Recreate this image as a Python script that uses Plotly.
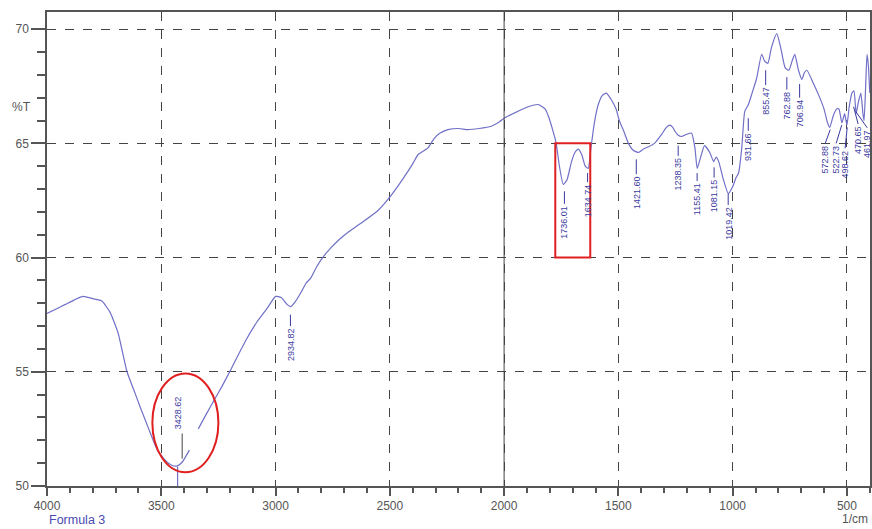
import plotly.graph_objects as go

# ---------------- data ----------------
wavenumber = [4000, 3960, 3920, 3880, 3842, 3800, 3760, 3724, 3689, 3650, 3620, 3592, 3555, 3518,
              3480, 3452, 3430, 3408, 3377, None, 3338, 3300, 3272, 3235, 3197, 3160, 3123, 3080,
              3035, 3000, 2975, 2950, 2934, 2915, 2890, 2865, 2846, 2820, 2794, 2760, 2720, 2684,
              2627, 2553, 2496, 2439, 2400, 2377, 2333, 2307, 2280, 2246, 2200, 2158, 2110, 2057,
              2020, 1991, 1940, 1895, 1851, 1820, 1803, 1785, 1772, 1758, 1741, 1725, 1705, 1690,
              1675, 1660, 1645, 1632, 1620, 1605, 1588, 1570, 1553, 1530, 1510, 1496, 1475, 1456,
              1435, 1412, 1390, 1368, 1342, 1310, 1290, 1276, 1262, 1254, 1238, 1224, 1200, 1180,
              1165, 1155, 1140, 1123, 1100, 1083, 1072, 1061, 1040, 1019, 1000, 985, 974, 960,
              947, 931, 915, 895, 873, 860, 846, 830, 807, 790, 770, 754, 740, 728, 712, 697, 686,
              675, 650, 623, 600, 585, 575, 560, 545, 535, 522, 510, 500, 490, 478, 469, 460, 450,
              439, 430, 425, 418, 412, 406, 400]
transmittance = [57.55, 57.75, 57.95, 58.15, 58.3, 58.2, 58.1, 57.6, 56.7, 55.0, 54.2, 53.45, 52.5, 51.6,
                 51.1, 50.9, 50.88, 51.05, 51.57, None, 52.5, 53.2, 53.7, 54.35, 55.07, 55.8, 56.5, 57.2,
                 57.8, 58.3, 58.25, 57.95, 57.85, 58.05, 58.45, 58.9, 59.1, 59.6, 60.0, 60.4, 60.8, 61.1,
                 61.5, 62.05, 62.7, 63.5, 64.1, 64.5, 64.8, 65.2, 65.45, 65.6, 65.65, 65.6, 65.65, 65.75,
                 65.95, 66.15, 66.4, 66.6, 66.7, 66.5, 66.1, 65.5, 65.0, 64.0, 63.2, 63.4, 64.2, 64.6,
                 64.75, 64.5, 64.0, 63.9, 64.8, 65.9, 66.7, 67.1, 67.2, 66.9, 66.5, 66.0, 65.5, 65.0,
                 64.7, 64.6, 64.75, 64.85, 65.0, 65.4, 65.7, 65.8, 65.7, 65.55, 65.35, 65.3, 65.4, 65.45,
                 64.8, 63.9, 64.4, 64.9, 64.6, 64.2, 64.4, 64.2, 63.4, 62.8, 63.1, 63.5, 63.7, 64.8,
                 66.4, 66.7, 67.2, 67.85, 68.9, 68.6, 68.5, 69.2, 69.8, 69.2, 68.3, 68.2, 68.6, 68.9, 68.2, 67.8, 68.1,
                 68.2, 67.7, 67.1, 66.5, 65.9, 65.7, 66.2, 66.5, 66.5, 65.9, 66.3, 65.8, 66.6, 67.2, 67.3, 66.3, 66.8,
                 67.2, 66.3, 66.0, 67.5, 68.9, 68.4, 67.2]

# peak labels: wavenumber, label text, label x position, leader start (near curve) / end (label top), %T
peak_wn = [3428.62, 2934.82, 1736.01, 1634.74, 1421.60, 1238.35, 1155.41, 1081.15, 1019.42,
           931.66, 855.47, 762.88, 706.94, 572.88, 522.73, 498.62, 470.65, 461.97]
peak_text = ["3428.62", "2934.82", "1736.01", "1634.74", "1421.60", "1238.35", "1155.41", "1081.15",
             "1019.42", "931.66", "855.47", "762.88", "706.94", "572.88", "522.73", "498.62",
             "470.65", "461.97"]
peak_label_x = [3428.62, 2934.82, 1736.01, 1634.74, 1421.60, 1238.35, 1155.41, 1081.15, 1019.42,
                931.66, 855.47, 762.88, 706.94, 595, 547, 508, 451, 411]
peak_line_top = [51.2, 57.5, 62.9, 63.7, 64.3, 64.9, 63.7, 63.95, 62.8, 66.1, 68.2, 67.9, 67.6,
                 65.6, 65.8, 65.7, 66.6, 66.4]
peak_line_bot = [52.3, 57.0, 62.35, 63.3, 63.65, 64.45, 63.35, 63.5, 62.3, 65.55, 67.55, 67.35, 67.0,
                 65.0, 65.0, 64.78, 65.85, 65.68]

x_ticks = [4000, 3500, 3000, 2500, 2000, 1500, 1000, 500]
y_ticks = [50, 55, 60, 65, 70]

red_box = dict(x0=1776, x1=1623, y0=60, y1=65)
red_ellipse = dict(x0=3539, x1=3250, y0=50.6, y1=54.93)

CURVE = "#7070c8"
LABEL = "#3a3aa0"
AXIS = "#555555"

fig = go.Figure()
fig.add_trace(go.Scatter(x=wavenumber, y=transmittance, mode="lines",
                         line=dict(color=CURVE, width=1.2, shape="spline", smoothing=0.5),
                         connectgaps=False, hoverinfo="skip", showlegend=False))

shapes = []
# solid 2000 grid line
shapes.append(dict(type="line", xref="x", yref="paper", x0=2000, x1=2000, y0=0, y1=1,
                   line=dict(color="#444444", width=1)))
annotations = []
for i, (wn, txt, lx, yt, yb) in enumerate(zip(peak_wn, peak_text, peak_label_x,
                                               peak_line_top, peak_line_bot)):
    if i == 0:
        # 3428.62 : gray leader above the curve, label on top, blue spike down to axis
        shapes.append(dict(type="line", xref="x", yref="y", x0=wn - 20, x1=wn - 20, y0=yt, y1=yb,
                           line=dict(color="#444444", width=1)))
        shapes.append(dict(type="line", xref="x", yref="y", x0=wn, x1=wn, y0=50, y1=50.85,
                           line=dict(color=CURVE, width=1.2)))
        annotations.append(dict(x=wn, y=yb + 0.1, xref="x", yref="y", text=txt, textangle=-90,
                                showarrow=False, xanchor="center", yanchor="bottom",
                                font=dict(size=9, color=LABEL, family="Liberation Sans")))
        continue
    shapes.append(dict(type="line", xref="x", yref="y", x0=wn, x1=lx, y0=yt, y1=yb,
                       line=dict(color=LABEL, width=1)))
    annotations.append(dict(x=lx, y=yb, xref="x", yref="y", text=txt, textangle=-90,
                            showarrow=False, xanchor="center", yanchor="top",
                            font=dict(size=9, color=LABEL, family="Liberation Sans")))

shapes.append(dict(type="rect", xref="x", yref="y", line=dict(color="#e02020", width=2),
                   **red_box))
shapes.append(dict(type="circle", xref="x", yref="y", line=dict(color="#e02020", width=2),
                   **red_ellipse))

annotations.append(dict(xref="paper", yref="paper", x=-0.045, y=0.8, text="%T", showarrow=False,
                        xanchor="left", yanchor="middle",
                        font=dict(size=12, color=AXIS, family="Liberation Sans")))
annotations.append(dict(xref="paper", yref="paper", x=0.0, y=-0.072, text="Formula 3", showarrow=False,
                        xanchor="left", yanchor="middle",
                        font=dict(size=12.5, color="#4a4ab0", family="Liberation Sans")))
annotations.append(dict(xref="paper", yref="paper", x=1.0, y=-0.07, text="1/cm", showarrow=False,
                        xanchor="right", yanchor="middle",
                        font=dict(size=12, color=AXIS, family="Liberation Sans")))

fig.update_layout(
    width=872, height=529,
    margin=dict(l=47, r=2, t=12, b=43),
    paper_bgcolor="white", plot_bgcolor="white",
    shapes=shapes, annotations=annotations,
    font=dict(family="Liberation Sans", size=12, color=AXIS),
    xaxis=dict(range=[4000, 399], tickvals=x_ticks, ticktext=[str(v) for v in x_ticks],
               ticks="outside", ticklen=8, tickcolor=AXIS, tickwidth=1.5, automargin=False,
               minor=dict(dtick=100, ticks="outside", ticklen=5, tickcolor=AXIS, showgrid=False),
               showgrid=True, gridcolor="#444444", griddash="dash", gridwidth=1,
               showline=True, linecolor=AXIS, linewidth=1.5, mirror=True, zeroline=False,
               tickfont=dict(size=12, color=AXIS)),
    yaxis=dict(range=[50, 70.75], tickvals=y_ticks, ticktext=[str(v) for v in y_ticks],
               ticks="outside", ticklen=14, tickcolor=AXIS, tickwidth=1.5, automargin=False,
               minor=dict(dtick=1, ticks="outside", ticklen=8, tickcolor=AXIS, showgrid=False),
               showgrid=True, gridcolor="#444444", griddash="dash", gridwidth=1,
               showline=True, linecolor=AXIS, linewidth=1.5, mirror=True, zeroline=False,
               tickfont=dict(size=12, color=AXIS)),
)

fig.write_html("out.html", config={"displayModeBar": False},
               post_script="document.body.style.margin='0';document.body.style.overflow='hidden';")
